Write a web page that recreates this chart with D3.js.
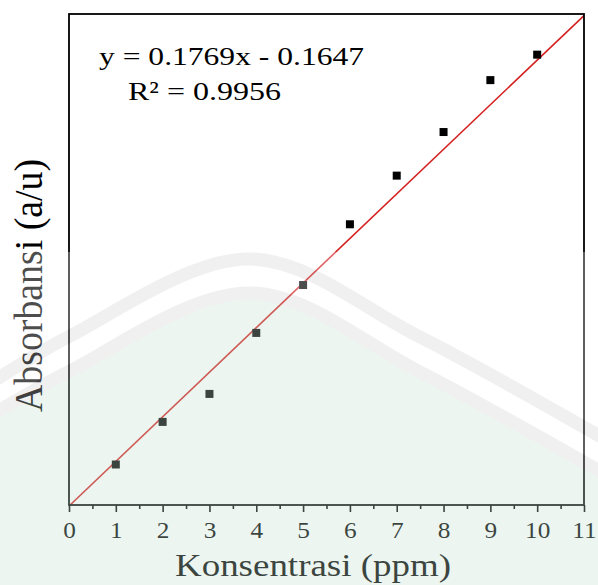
<!DOCTYPE html>
<html><head><meta charset="utf-8">
<script src="https://cdn.jsdelivr.net/npm/d3@7"></script>
<style>html,body{margin:0;padding:0;background:#fff;} svg{display:block}</style>
</head><body><svg id="chart" width="598" height="585"></svg>
<script>
// ---- data ----
const concentration = [1, 2, 3, 4, 5, 6, 7, 8, 9, 10];
const absorbance = [0.000, 0.169, 0.280, 0.522, 0.712, 0.953, 1.146, 1.319, 1.525, 1.626];
const fitSlope = 0.1769;
const fitIntercept = -0.1647;
const fitR2 = 0.9956;
const xTickValues = [0, 1, 2, 3, 4, 5, 6, 7, 8, 9, 10, 11];
const xMinorValues = [0.5, 1.5, 2.5, 3.5, 4.5, 5.5, 6.5, 7.5, 8.5, 9.5, 10.5];
const xDomain = [0, 11];
const yDomain = [-0.1607, 1.7873];
const xTitle = "Konsentrasi (ppm)";
const yTitle = "Absorbansi (a/u)";
const eqLine1 = "y = " + fitSlope + "x - " + Math.abs(fitIntercept);
const eqLine2 = "R\u00B2 = " + fitR2;

// ---- layout ----
const svg = d3.select("#chart");
const L = 69, R = 584, T = 14, B = 505;
const serif = "'Liberation Serif','Times New Roman',Times,serif";
const x = d3.scaleLinear().domain(xDomain).range([L, R]);
const y = d3.scaleLinear().domain(yDomain).range([B, T]);

svg.append("rect").attr("width", 598).attr("height", 585).attr("fill", "#fff");

svg.append("clipPath").attr("id", "plotclip")
  .append("rect").attr("x", L).attr("y", T).attr("width", R - L).attr("height", B - T);

// fit line
svg.append("path")
  .datum(xDomain.map(v => [v, fitSlope * v + fitIntercept]))
  .attr("clip-path", "url(#plotclip)")
  .attr("fill", "none").attr("stroke", "#d42020").attr("stroke-width", 1.6)
  .attr("d", d3.line().x(d => x(d[0])).y(d => y(d[1])));

// points
const sz = 8;
svg.append("g").selectAll("rect").data(concentration).join("rect")
  .attr("x", d => x(d) - sz / 2)
  .attr("y", (d, i) => y(absorbance[i]) - sz / 2)
  .attr("width", sz).attr("height", sz).attr("fill", "#000");

// frame
svg.append("rect").attr("x", L).attr("y", T).attr("width", R - L).attr("height", B - T)
  .attr("fill", "none").attr("stroke", "#000").attr("stroke-width", 1.8);

// bottom axis
const ax = svg.append("g").attr("transform", `translate(0,${B})`)
  .call(d3.axisBottom(x).tickValues(xTickValues).tickSize(7).tickFormat(d3.format("d")));
ax.select(".domain").remove();
ax.selectAll(".tick line").attr("stroke", "#000").attr("stroke-width", 1.6);
ax.selectAll(".tick text")
  .attr("fill", "#000").attr("font-family", serif).attr("font-size", 23)
  .attr("y", 33).attr("dy", 0).attr("transform", "scale(1.1,1)");
const axm = svg.append("g").attr("transform", `translate(0,${B})`)
  .call(d3.axisBottom(x).tickValues(xMinorValues).tickSize(4).tickFormat(""));
axm.select(".domain").remove();
axm.selectAll(".tick line").attr("stroke", "#000").attr("stroke-width", 1.6);

// axis titles
svg.append("text").attr("x", 175).attr("y", 576)
  .attr("font-family", serif).attr("font-size", 32)
  .attr("textLength", 276).attr("lengthAdjust", "spacingAndGlyphs")
  .attr("fill", "#000").text(xTitle);
svg.append("text")
  .attr("transform", "translate(42,412) scale(1.1,1) rotate(-90)")
  .attr("font-family", serif).attr("font-size", 37)
  .attr("textLength", 253).attr("lengthAdjust", "spacingAndGlyphs")
  .attr("fill", "#000").text(yTitle);

// equation
svg.append("text").attr("x", 99).attr("y", 65)
  .attr("font-family", serif).attr("font-size", 26)
  .attr("textLength", 265).attr("lengthAdjust", "spacingAndGlyphs")
  .attr("fill", "#000").text(eqLine1);
svg.append("text").attr("x", 128).attr("y", 100)
  .attr("font-family", serif).attr("font-size", 26)
  .attr("textLength", 153).attr("lengthAdjust", "spacingAndGlyphs")
  .attr("fill", "#000").text(eqLine2);

// ---- faint background watermark overlay ----
const wm = svg.append("g").attr("opacity", 0.3).attr("pointer-events", "none");
wm.append("rect").attr("x", 0).attr("y", 252).attr("width", 598).attr("height", 340).attr("fill", "#fff");
const outerPts = [[-30, 394], [0, 377], [68, 337], [250, 259], [420, 337], [598, 435], [630, 453]];
const innerPts = [[-30, 427], [0, 410], [68, 372], [250, 293], [420, 372], [598, 470], [630, 488]];
const curve = d3.curveCatmullRom.alpha(0.5);
wm.append("path").attr("fill", "#c3e1d0")
  .attr("d", d3.area().x(d => d[0]).y0(d => d[1] + 6).y1(600).curve(curve)(innerPts));
[outerPts, innerPts].forEach(p => {
  wm.append("path").attr("fill", "none").attr("stroke", "#cfcfcf").attr("stroke-width", 13)
    .attr("d", d3.line().curve(curve)(p));
});
</script></body></html>
